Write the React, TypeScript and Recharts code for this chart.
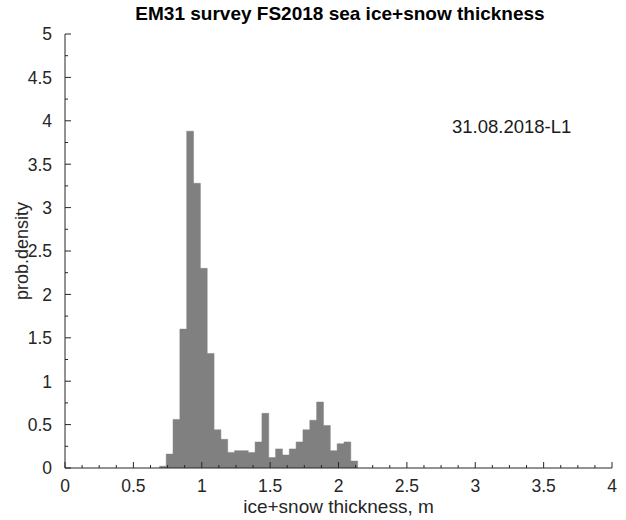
import React from 'react';
import { AreaChart, Area, XAxis, YAxis, ReferenceDot } from 'recharts';

// Histogram bin edges (m) and probability density per bin
const binEdges = [0.69, 0.74, 0.79, 0.84, 0.89, 0.94, 0.99, 1.04, 1.09, 1.14, 1.19, 1.24, 1.29, 1.34, 1.39, 1.44, 1.49, 1.54, 1.59, 1.64, 1.69, 1.74, 1.79, 1.84, 1.89, 1.94, 1.99, 2.04, 2.09, 2.14];
const density = [0.02, 0.16, 0.56, 1.6, 3.88, 3.28, 2.3, 1.32, 0.44, 0.33, 0.18, 0.2, 0.2, 0.18, 0.3, 0.63, 0.12, 0.22, 0.15, 0.22, 0.3, 0.44, 0.55, 0.76, 0.49, 0.2, 0.28, 0.3, 0.08];

const xMajor = [0, 0.5, 1, 1.5, 2, 2.5, 3, 3.5, 4];
const xMinor = [0.125, 0.25, 0.375, 0.625, 0.75, 0.875, 1.125, 1.25, 1.375, 1.625, 1.75, 1.875, 2.125, 2.25, 2.375, 2.625, 2.75, 2.875, 3.125, 3.25, 3.375, 3.625, 3.75, 3.875];
const yMajor = [0, 0.5, 1, 1.5, 2, 2.5, 3, 3.5, 4, 4.5, 5];
const yMinor = [0.25, 0.75, 1.25, 1.75, 2.25, 2.75, 3.25, 3.75, 4.25, 4.75];

const titleText = 'EM31 survey FS2018 sea ice+snow thickness';
const xLabel = 'ice+snow thickness, m';
const yLabel = 'prob.density';
const annotation = '31.08.2018-L1';

const data = binEdges.map((x, i) => ({ x, y: i < density.length ? density[i] : 0 }));
const xTicks = [...xMajor, ...xMinor].sort((a, b) => a - b);
const yTicks = [...yMajor, ...yMinor].sort((a, b) => a - b);

const FONT = '"Liberation Sans", Arial, Helvetica, sans-serif';
const AXIS = '#262626';
const TICK_FS = 17.5;

const isMajor = (v: number, majors: number[]) => majors.some((m) => Math.abs(m - v) < 1e-9);

function BottomTick(props: any) {
  const { x, y, payload } = props;
  const major = isMajor(payload.value, xMajor);
  return (
    <g>
      <line x1={x} y1={y} x2={x} y2={y - (major ? 6 : 3)} stroke={AXIS} strokeWidth={1} />
      {major && (
        <text x={x} y={y + 24} textAnchor="middle" fontSize={TICK_FS} fill={AXIS} fontFamily={FONT}>
          {String(payload.value)}
        </text>
      )}
    </g>
  );
}

function TopTick(props: any) {
  const { x, y, payload } = props;
  const major = isMajor(payload.value, xMajor);
  return <line x1={x} y1={y} x2={x} y2={y + (major ? 6 : 3)} stroke={AXIS} strokeWidth={1} />;
}

function LeftTick(props: any) {
  const { x, y, payload } = props;
  const major = isMajor(payload.value, yMajor);
  return (
    <g>
      <line x1={x} y1={y} x2={x + (major ? 6 : 3)} y2={y} stroke={AXIS} strokeWidth={1} />
      {major && (
        <text x={x - 13} y={y + 6.3} textAnchor="end" fontSize={TICK_FS} fill={AXIS} fontFamily={FONT}>
          {String(payload.value)}
        </text>
      )}
    </g>
  );
}

function RightTick(props: any) {
  const { x, y, payload } = props;
  const major = isMajor(payload.value, yMajor);
  return <line x1={x} y1={y} x2={x - (major ? 6 : 3)} y2={y} stroke={AXIS} strokeWidth={1} />;
}

function XTitle(props: any) {
  const vb = props.viewBox || {};
  return (
    <text x={vb.x + vb.width / 2} y={vb.y + 45} textAnchor="middle" fontSize={19} fill={AXIS} fontFamily={FONT}>
      {xLabel}
    </text>
  );
}

function YTitle(props: any) {
  const vb = props.viewBox || {};
  const cx = 28;
  const cy = vb.y + vb.height / 2;
  return (
    <text x={cx} y={cy} transform={`rotate(-90, ${cx}, ${cy})`} textAnchor="middle" fontSize={18} fill={AXIS} fontFamily={FONT}>
      {yLabel}
    </text>
  );
}

export default function App() {
  return (
    <div style={{ position: 'absolute', left: 0, top: 0, width: 626, height: 520, background: '#fff', overflow: 'hidden' }}>
      <div
        style={{
          position: 'absolute',
          left: 54,
          width: 572,
          top: 3.7,
          textAlign: 'center',
          fontFamily: FONT,
          fontWeight: 'bold',
          fontSize: 19,
          lineHeight: '19px',
          color: '#000',
          whiteSpace: 'nowrap',
        }}
      >
        {titleText}
      </div>
      <div style={{ position: 'absolute', left: 0, top: 0 }}>
        <AreaChart width={626} height={520} data={data} margin={{ top: 34, right: 14, bottom: 0, left: 0 }}>
          <XAxis
            xAxisId="b"
            dataKey="x"
            type="number"
            domain={[0, 4]}
            allowDataOverflow
            ticks={xTicks}
            interval={0}
            tickLine={false}
            tickSize={0}
            tickMargin={0}
            tick={<BottomTick />}
            axisLine={{ stroke: AXIS, strokeWidth: 1 }}
            height={52}
            orientation="bottom"
            label={<XTitle />}
          />
          <XAxis
            xAxisId="t"
            dataKey="x"
            type="number"
            domain={[0, 4]}
            allowDataOverflow
            ticks={xTicks}
            interval={0}
            tickLine={false}
            tickSize={0}
            tickMargin={0}
            tick={<TopTick />}
            axisLine={{ stroke: AXIS, strokeWidth: 1 }}
            height={0}
            orientation="top"
          />
          <YAxis
            yAxisId="l"
            type="number"
            domain={[0, 5]}
            allowDataOverflow
            ticks={yTicks}
            interval={0}
            tickLine={false}
            tickSize={0}
            tickMargin={0}
            tick={<LeftTick />}
            axisLine={{ stroke: AXIS, strokeWidth: 1 }}
            width={65}
            orientation="left"
            label={<YTitle />}
          />
          <YAxis
            yAxisId="r"
            type="number"
            domain={[0, 5]}
            allowDataOverflow
            ticks={yTicks}
            interval={0}
            tickLine={false}
            tickSize={0}
            tickMargin={0}
            tick={<RightTick />}
            axisLine={{ stroke: AXIS, strokeWidth: 1 }}
            width={0}
            orientation="right"
          />
          <Area
            xAxisId="b"
            yAxisId="l"
            type="stepAfter"
            dataKey="y"
            fill="#808080"
            fillOpacity={1}
            stroke="#808080"
            strokeWidth={0.5}
            dot={false}
            activeDot={false}
            isAnimationActive={false}
          />
          <Area
            xAxisId="t"
            yAxisId="r"
            type="stepAfter"
            dataKey="y"
            fill="none"
            stroke="none"
            dot={false}
            activeDot={false}
            isAnimationActive={false}
          />
          <ReferenceDot
            xAxisId="b"
            yAxisId="l"
            x={3.266}
            y={3.93}
            r={0}
            fill="none"
            stroke="none"
            label={{ value: annotation, position: 'center', fontSize: 18.5, fill: '#1a1a1a', fontFamily: FONT }}
          />
        </AreaChart>
      </div>
    </div>
  );
}
